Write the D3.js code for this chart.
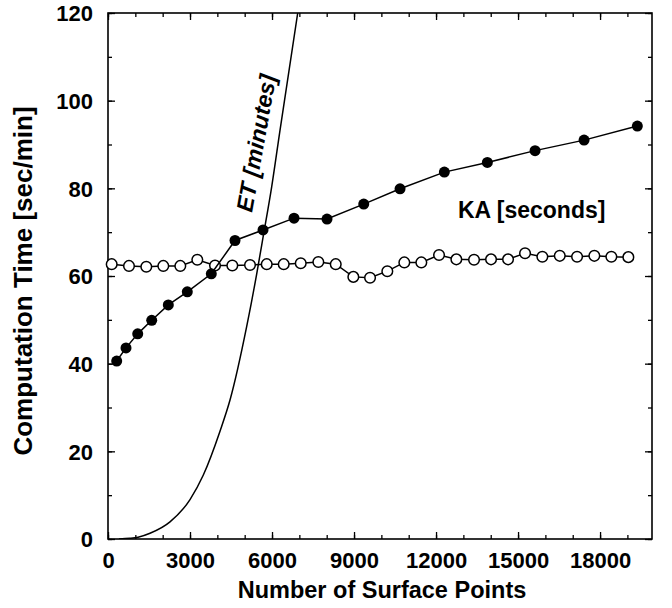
<!DOCTYPE html>
<html><head><meta charset="utf-8">
<script src="https://cdn.jsdelivr.net/npm/d3@7"></script>
<style>body{margin:0;background:#fff}svg{display:block}text{font-family:"Liberation Sans",Arial,sans-serif;font-weight:bold}</style>
</head><body><svg id="c" width="672" height="608"></svg>
<script>
// KA (filled) series
const kaX = [318,659,1087,1599,2206,2901,3779,4646,5671,6805,8012,9355,10683,12304,13877,15622,17415,19364];
const kaY = [40.6,43.6,46.8,49.9,53.4,56.4,60.5,68.1,70.5,73.2,73.0,76.4,79.9,83.7,85.9,88.6,91.0,94.2];
// open circle series
const opX = [135,768,1401,2023,2645,3267,3915,4548,5195,5806,6428,7050,7694,8331,8975,9586,10218,10840,11462,12110,12743,13390,14012,14634,15256,15889,16526,17159,17791,18413,19035];
const opY = [62.7,62.3,62.1,62.3,62.3,63.7,62.4,62.4,62.5,62.7,62.7,62.9,63.2,62.7,59.8,59.6,61.1,63.1,63.1,64.8,63.8,63.7,63.8,63.8,65.2,64.4,64.6,64.4,64.6,64.4,64.3];
// ET curve
const etX = [400,800,1100,1537,2268,3000,3487,4097,4463,5074,5440,5682,5989,6293,6940];
const etY = [0,0.15,0.4,1.3,3.9,9.0,14.6,24.6,31.7,48.5,60.5,69.2,80.4,93.3,120];
const xTicks = [0,3000,6000,9000,12000,15000,18000];
const yTicks = [0,20,40,60,80,100,120];

const W=672,H=608,m={l:108,t:13,r:20,b:69};
const svg=d3.select("#c");
const x=d3.scaleLinear().domain([0,19900]).range([m.l,W-m.r]);
const y=d3.scaleLinear().domain([0,120]).range([H-m.b,m.t]);
const minorX=d3.range(0,19901,1000), minorY=d3.range(0,121,10);

function styleAxis(g){g.select(".domain").remove();g.selectAll("line").attr("stroke","#000").attr("stroke-width",1.3);}
// minor ticks
svg.append("g").attr("transform",`translate(0,${y(0)})`).call(d3.axisBottom(x).tickValues(minorX).tickSize(-4).tickFormat("")).call(styleAxis);
svg.append("g").attr("transform",`translate(0,${y(120)})`).call(d3.axisTop(x).tickValues(minorX).tickSize(-4).tickFormat("")).call(styleAxis);
svg.append("g").attr("transform",`translate(${x.range()[0]},0)`).call(d3.axisLeft(y).tickValues(minorY).tickSize(-4).tickFormat("")).call(styleAxis);
svg.append("g").attr("transform",`translate(${x.range()[1]},0)`).call(d3.axisRight(y).tickValues(minorY).tickSize(-4).tickFormat("")).call(styleAxis);
// major ticks
const gx=svg.append("g").attr("transform",`translate(0,${y(0)})`).call(d3.axisBottom(x).tickValues(xTicks).tickSize(-7).tickPadding(13).tickFormat(d3.format("d"))).call(styleAxis);
svg.append("g").attr("transform",`translate(0,${y(120)})`).call(d3.axisTop(x).tickValues(xTicks).tickSize(-7).tickFormat("")).call(styleAxis);
const gy=svg.append("g").attr("transform",`translate(${x.range()[0]},0)`).call(d3.axisLeft(y).tickValues(yTicks).tickSize(-7).tickPadding(15)).call(styleAxis);
svg.append("g").attr("transform",`translate(${x.range()[1]},0)`).call(d3.axisRight(y).tickValues(yTicks).tickSize(-7).tickFormat("")).call(styleAxis);
gx.selectAll("text").attr("font-size",22).attr("fill","#000").attr("font-family","Liberation Sans, Arial").attr("font-weight","bold");
gy.selectAll("text").attr("font-size",22).attr("fill","#000").attr("font-family","Liberation Sans, Arial").attr("font-weight","bold").attr("dy","0.36em");

// frame
svg.append("rect").attr("x",m.l).attr("y",m.t).attr("width",W-m.l-m.r).attr("height",H-m.t-m.b).attr("fill","none").attr("stroke","#000").attr("stroke-width",1.6);

svg.append("clipPath").attr("id","clip").append("rect").attr("x",m.l).attr("y",m.t).attr("width",W-m.l-m.r).attr("height",H-m.t-m.b);

// ET curve
const et=etX.map((v,i)=>[v,etY[i]]);
svg.append("path").attr("clip-path","url(#clip)").attr("d",d3.line().x(d=>x(d[0])).y(d=>y(d[1])).curve(d3.curveMonotoneX)(et)).attr("fill","none").attr("stroke","#000").attr("stroke-width",1.5);

// open series
const op=opX.map((v,i)=>[v,opY[i]]);
svg.append("path").attr("d",d3.line().x(d=>x(d[0])).y(d=>y(d[1]))(op)).attr("fill","none").attr("stroke","#000").attr("stroke-width",1.5);
svg.append("g").selectAll("circle").data(op).join("circle").attr("cx",d=>x(d[0])).attr("cy",d=>y(d[1])).attr("r",5.3).attr("fill","#fff").attr("stroke","#000").attr("stroke-width",1.5);

// KA series
const ka=kaX.map((v,i)=>[v,kaY[i]]);
svg.append("path").attr("d",d3.line().x(d=>x(d[0])).y(d=>y(d[1]))(ka)).attr("fill","none").attr("stroke","#000").attr("stroke-width",1.5);
svg.append("g").selectAll("circle").data(ka).join("circle").attr("cx",d=>x(d[0])).attr("cy",d=>y(d[1])).attr("r",5.5).attr("fill","#000");

// labels
svg.append("text").attr("x",458).attr("y",218).attr("font-size",23).text("KA [seconds]");
svg.append("text").attr("transform","translate(252,213) rotate(-80)").attr("font-size",23).attr("font-style","italic").text("ET [minutes]");
svg.append("text").attr("x",(m.l+W-m.r)/2+2).attr("y",598).attr("text-anchor","middle").attr("font-size",23.5).text("Number of Surface Points");
svg.append("text").attr("transform",`translate(32,${(m.t+H-m.b)/2+5}) rotate(-90)`).attr("text-anchor","middle").attr("font-size",26).text("Computation Time [sec/min]");
</script></body></html>
